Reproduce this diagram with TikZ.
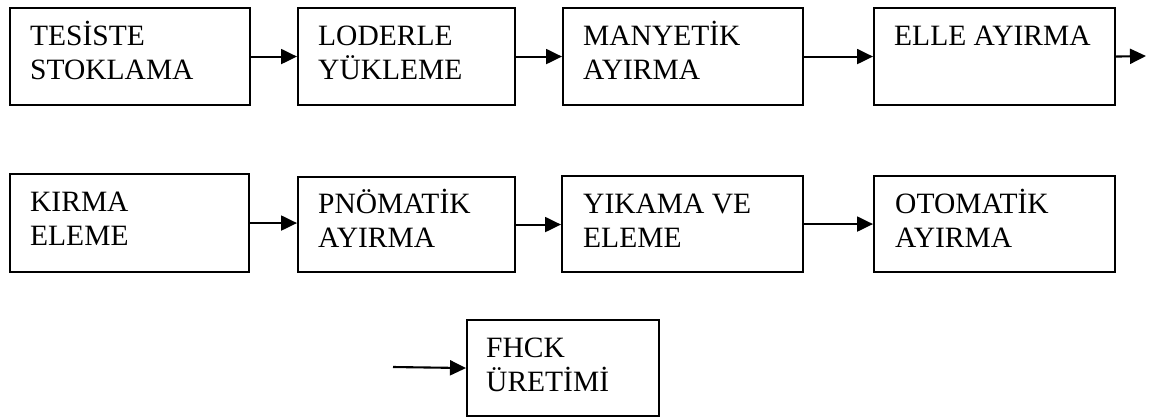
\documentclass[tikz,border=0pt]{standalone}
\usepackage{fontspec}
\setmainfont{Liberation Serif}
\usetikzlibrary{arrows.meta}
\tikzset{
  stepbox/.style={draw,line width=2.1pt,anchor=north west,inner sep=0pt},
  lbl/.style={anchor=base west,inner sep=0pt,align=left,font=\fontsize{29.5}{34}\selectfont},
  arr/.style={line width=2.1pt,-{Triangle[length=16pt,width=15pt]}}
}
\begin{document}
\begin{tikzpicture}[x=1pt,y=-1pt]
\useasboundingbox (0,0) rectangle (1153,416);
% row 1
\node[stepbox,minimum width=240pt,minimum height=97pt] (b1) at (9,7) {};
\node[stepbox,minimum width=217pt,minimum height=97pt] (b2) at (297,7) {};
\node[stepbox,minimum width=240pt,minimum height=97pt] (b3) at (562,7) {};
\node[stepbox,minimum width=241pt,minimum height=97pt] (b4) at (873,7) {};
% row 2
\node[stepbox,minimum width=239pt,minimum height=98pt] (b5) at (9,173) {};
\node[stepbox,minimum width=217pt,minimum height=95pt] (b6) at (297,176) {};
\node[stepbox,minimum width=241pt,minimum height=96pt] (b7) at (561,175) {};
\node[stepbox,minimum width=241pt,minimum height=96pt] (b8) at (873,175) {};
% row 3
\node[stepbox,minimum width=192pt,minimum height=96pt] (b9) at (466,319) {};
% labels (anchor is at the baseline of the last line)
\node[lbl] (t1) at ([xshift=21pt,yshift=-72pt]b1.north west) {TESİSTE\\STOKLAMA};
\node[lbl] (t2) at ([xshift=21pt,yshift=-72pt]b2.north west) {LODERLE\\YÜKLEME};
\node[lbl] (t3) at ([xshift=21pt,yshift=-72pt]b3.north west) {MANYETİK\\AYIRMA};
\node[lbl] (t4) at ([xshift=21pt,yshift=-38pt]b4.north west) {ELLE AYIRMA};
\node[lbl] (t5) at ([xshift=21pt,yshift=-72pt]b5.north west) {KIRMA\\ELEME};
\node[lbl] (t6) at ([xshift=21pt,yshift=-71pt]b6.north west) {PNÖMATİK\\AYIRMA};
\node[lbl] (t7) at ([xshift=22pt,yshift=-72pt]b7.north west) {YIKAMA VE\\ELEME};
\node[lbl] (t8) at ([xshift=22pt,yshift=-72pt]b8.north west) {OTOMATİK\\AYIRMA};
\node[lbl] (t9) at ([xshift=20pt,yshift=-72pt]b9.north west) {FHCK\\ÜRETİMİ};
% connectors
\coordinate (o4) at (1146,56);
\coordinate (i9) at (393,367);
\draw[arr] (b1.east) -- (b2.west);
\draw[arr] (b2.east) -- (b3.west);
\draw[arr] (b3.east) -- (b4.west);
\draw[arr] (b4.east) -- (o4);
\draw[arr] (b5.east) -- (b5.east -| b6.west);
\draw[arr] (b6.east) -- (b6.east -| b7.west);
\draw[arr] (b7.east) -- (b7.east -| b8.west);
\draw[arr] (i9) -- (b9.west);
\end{tikzpicture}
\end{document}
